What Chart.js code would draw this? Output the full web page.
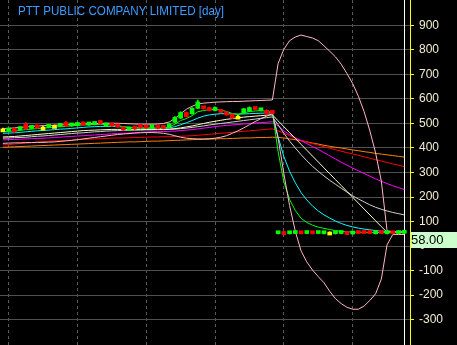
<!DOCTYPE html>
<html lang="en">
<head>
  <meta charset="UTF-8">
  <title>PTT PUBLIC COMPANY LIMITED [day]</title>
  <script src="https://cdn.jsdelivr.net/npm/chart.js"></script>
  <style>
    html, body { margin: 0; padding: 0; background: #000; }
    #wrap { position: relative; width: 457px; height: 345px; }
  </style>
</head>
<body>
<div id="wrap"><canvas id="chart"></canvas></div>
<script>
  const title = "PTT PUBLIC COMPANY LIMITED [day]";

  // daily candles (first 48 bars before the split, 23 after)
  const open = [478, 470, 480, 475, 498, 480, 492, 485, 484, 492, 488, 505, 490, 492, 505, 494, 496, 510, 490, 498,
    494, 482, 474, 484, 492, 488, 482, 488, 486, 486, 505, 522, 545, 540, 562, 565, 565, 553, 555, 548,
    538, 530, 543, 550, 563, 552, 554, 550,
    50, 56, 50, 51, 55, 51, 55, 51, 50, 57, 50, 51, 53, 49, 55, 55, 55, 50, 55, 50, 55, 51, 52];
  const close = [478, 476, 466, 484, 478, 488, 482, 485, 492, 492, 496, 490, 498, 502, 494, 500, 502, 500, 500, 490,
    486, 474, 481, 478, 484, 482, 488, 480, 480, 498, 525, 545, 528, 562, 588, 560, 553, 565, 545, 535,
    522, 530, 560, 565, 557, 558, 540, 541,
    54, 47, 54, 55, 50, 55, 50, 55, 56, 57, 56, 55, 47, 54, 51, 51, 51, 54, 51, 55, 50, 56, 58];
  const high = [481, 478, 483, 486, 504, 490, 494, 488, 494, 494, 498, 509, 500, 504, 507, 502, 504, 512, 502, 500,
    496, 484, 483, 486, 494, 490, 490, 490, 488, 500, 528, 548, 547, 565, 596, 568, 567, 568, 557, 550,
    540, 533, 562, 568, 565, 560, 556, 552,
    55, 57, 55, 56, 56, 56, 56, 56, 57, 58, 57, 56, 54, 55, 56, 56, 56, 55, 56, 56, 56, 57, 58];
  const low = [475, 468, 464, 473, 476, 478, 480, 482, 482, 489, 486, 488, 488, 490, 492, 492, 494, 498, 488, 488,
    484, 472, 472, 476, 482, 480, 480, 478, 478, 484, 503, 520, 526, 538, 560, 558, 551, 551, 543, 533,
    520, 527, 541, 548, 555, 550, 538, 539,
    49, 46, 49, 50, 49, 50, 49, 50, 49, 55, 49, 50, 46, 48, 50, 50, 50, 49, 50, 49, 49, 50, 51];

  // indicator lines
  const lineGreen = [467, 468, 469, 472, 475, 477, 479, 481, 483, 485, 487, 488, 491, 493, 494, 495, 496, 497, 496, 494,
    491, 487, 484, 482, 482, 481, 482, 481, 481, 486, 497, 512, 520, 532, 548, 553, 556, 558, 555, 549,
    541, 537, 543, 549, 551, 553, 549, 546,
    385, 262, 190, 145, 113, 96, 85, 77, 72, 67, 63, 60, 58, 57, 56, 56, 55, 55, 55, 55, 55, 55, 55];
  const lineCyan = [460, 461, 462, 464, 466, 468, 470, 472, 473, 475, 477, 478, 480, 482, 484, 486, 487, 488, 488, 488,
    487, 486, 484, 483, 482, 481, 481, 480, 480, 482, 487, 495, 503, 512, 522, 530, 535, 538, 540, 540,
    539, 538, 539, 540, 541, 542, 543, 543,
    445, 365, 305, 258, 218, 188, 163, 143, 127, 114, 102, 92, 84, 78, 73, 69, 66, 63, 61, 59, 58, 57, 56];
  const lineCream = [445, 446, 447, 449, 451, 453, 455, 457, 459, 461, 463, 465, 467, 469, 471, 472, 473, 474, 475, 476,
    476, 476, 476, 476, 476, 476, 476, 476, 476, 477, 479, 482, 486, 490, 495, 500, 505, 509, 513, 517,
    520, 523, 526, 528, 530, 532, 534, 535,
    511, 487, 463, 439, 415, 391, 367, 343, 319, 295, 271, 247, 223, 199, 175, 151, 127, 103, 79, 56, 56, 55, 55];
  const lineGray = [440, 441, 442, 443, 444, 446, 448, 449, 451, 453, 455, 457, 459, 461, 462, 464, 466, 467, 469, 470,
    471, 472, 472, 473, 473, 474, 474, 475, 475, 476, 477, 479, 481, 484, 487, 490, 494, 497, 500, 503,
    506, 509, 512, 515, 518, 521, 524, 527,
    495, 460, 428, 400, 373, 348, 325, 305, 286, 268, 252, 236, 220, 205, 192, 180, 168, 158, 150, 143, 137, 132, 127];
  const lineMagenta = [433, 434, 435, 436, 437, 438, 439, 440, 441, 443, 444, 446, 447, 449, 450, 452, 453, 455, 456, 458,
    459, 460, 461, 462, 464, 465, 466, 467, 467, 468, 469, 471, 473, 475, 478, 481, 484, 487, 490, 492,
    494, 496, 498, 500, 502, 504, 505, 507,
    490, 470, 455, 442, 430, 418, 406, 394, 381, 368, 355, 342, 330, 318, 307, 296, 285, 274, 264, 255, 246, 238, 231];
  const lineRed = [413, 414, 416, 418, 420, 422, 424, 426, 428, 429, 430, 431, 432, 434, 435, 436, 437, 438, 439, 440,
    441, 441, 442, 443, 443, 444, 445, 445, 446, 446, 447, 448, 449, 450, 452, 454, 456, 458, 460, 462,
    464, 466, 468, 470, 472, 474, 476, 478,
    470, 460, 450, 440, 431, 424, 418, 412, 405, 399, 393, 387, 381, 376, 370, 364, 358, 352, 347, 341, 335, 330, 324];
  const lineOrange = [403, 404, 405, 406, 407, 408, 409, 410, 411, 412, 413, 414, 415, 416, 417, 418, 419, 420, 421, 422,
    423, 424, 425, 425, 426, 427, 428, 428, 429, 430, 431, 432, 433, 434, 435, 435, 436, 437, 438, 438,
    439, 440, 441, 441, 442, 443, 443, 444,
    443, 441, 437, 434, 430, 425, 420, 416, 411, 407, 403, 400, 396, 392, 389, 385, 382, 378, 375, 372, 369, 366, 363];
  const bandUpper = [478, 480, 482, 484, 486, 488, 490, 491, 492, 493, 494, 495, 496, 497, 498, 499, 500, 500, 501, 501,
    501, 500, 499, 498, 497, 497, 497, 498, 500, 506, 520, 540, 558, 570, 580, 583, 585, 587, 588, 589,
    590, 590, 591, 592, 593, 594, 595, 596,
    745, 803, 838, 853, 861, 855, 849, 838, 817, 795, 772, 742, 704, 663, 611, 548, 470, 380, 265, 62, 58, 58, 58];
  const bandLower = [419, 420, 421, 421, 422, 422, 423, 423, 424, 425, 427, 429, 431, 434, 437, 440, 443, 446, 449, 452,
    455, 457, 459, 461, 462, 463, 463, 462, 460, 456, 450, 444, 440, 438, 437, 437, 438, 440, 444, 450,
    460, 470, 482, 495, 508, 520, 530, 540,
    440, 295, 165, 60, -20, -65, -98, -125, -150, -185, -215, -235, -250, -258, -258, -245, -222, -195, -135, 5, 47, 47, 47];

  const yTicks = [-300, -200, -100, 0, 100, 200, 300, 400, 500, 600, 700, 800, 900];
  const periodLines = [8, 20, 32, 44, 56, 68];

  const days = close.map((_, k) => k + 1);
  const lastPrice = close[close.length - 1];

  const candleColor = days.map((_, k) =>
    close[k] > open[k] ? '#00ff00' : (close[k] < open[k] ? '#ff0000' : '#ffff00'));

  function line(values, color, order) {
    return {
      type: 'line',
      data: values.map((v, k) => ({ x: days[k], y: v })),
      borderColor: color,
      borderWidth: 1,
      pointRadius: 0,
      tension: 0,
      order: order
    };
  }

  function noPadding(scale) {
    scale.paddingTop = 0;
    scale.paddingBottom = 0;
    scale.paddingLeft = 0;
    scale.paddingRight = 0;
  }

  const overlay = {
    id: 'overlay',
    beforeDatasetsDraw(chart) {
      const { ctx, chartArea, scales } = chart;
      const x = Math.round(scales.x.getPixelForValue(days[days.length - 1])) + 0.5;
      ctx.save();
      ctx.strokeStyle = '#ffffff';
      ctx.lineWidth = 1;
      ctx.beginPath();
      ctx.moveTo(x, chartArea.top);
      ctx.lineTo(x, chartArea.bottom);
      ctx.stroke();
      ctx.restore();
    },
    afterDraw(chart) {
      const { ctx, chartArea, scales } = chart;
      ctx.save();
      ctx.font = '13px "Liberation Sans", Arial, sans-serif';
      ctx.fillStyle = '#3d9bff';
      ctx.textBaseline = 'alphabetic';
      ctx.fillText(title, 18, 14.5, 206);

      const y = Math.round(scales.y.getPixelForValue(lastPrice));
      const left = chartArea.right;
      ctx.fillStyle = '#ccffcc';
      ctx.fillRect(left, y, chart.width - left, 16);
      ctx.fillStyle = '#000000';
      ctx.textBaseline = 'middle';
      ctx.fillText(lastPrice.toFixed(2), left + 1, y + 8.5);
      ctx.strokeStyle = '#ffff00';
      ctx.lineWidth = 1;
      ctx.beginPath();
      ctx.moveTo(left + 0.5, y);
      ctx.lineTo(left + 0.5, y + 16);
      ctx.stroke();
      ctx.restore();
    }
  };

  new Chart(document.getElementById('chart'), {
    type: 'bar',
    data: {
      datasets: [
        {
          type: 'bar',
          data: days.map((d, k) => ({ x: d, y: [open[k], close[k]] })),
          backgroundColor: candleColor,
          barThickness: 4,
          minBarLength: 3,
          grouped: false,
          order: 0
        },
        {
          type: 'bar',
          data: days.map((d, k) => ({ x: d, y: [low[k], high[k]] })),
          backgroundColor: candleColor,
          barThickness: 1,
          grouped: false,
          order: 1
        },
        line(lineOrange, '#ff8000', 9),
        line(lineRed, '#ff0000', 8),
        line(lineMagenta, '#ff00ff', 7),
        line(lineGray, '#d0d0d0', 6),
        line(lineCream, '#ffffc8', 5),
        line(lineCyan, '#00ffff', 4),
        line(lineGreen, '#00ff00', 3),
        line(bandUpper, '#ffb6c8', 2),
        line(bandLower, '#ffb6c8', 2)
      ]
    },
    options: {
      responsive: true,
      maintainAspectRatio: false,
      animation: false,
      layout: { padding: 0 },
      plugins: { legend: { display: false }, tooltip: { enabled: false } },
      scales: {
        x: {
          type: 'linear',
          min: 0.5,
          max: 72,
          offset: false,
          afterBuildTicks(scale) { scale.ticks = periodLines.map(v => ({ value: v })); },
          afterFit(scale) { scale.height = 0; noPadding(scale); },
          ticks: { display: false },
          grid: { color: '#5a5a5a', drawTicks: false },
          border: { display: false, dash: [3, 3] }
        },
        y: {
          position: 'right',
          min: -404,
          max: 1004,
          afterBuildTicks(scale) { scale.ticks = yTicks.map(v => ({ value: v })); },
          afterFit(scale) { scale.width = 47; noPadding(scale); },
          ticks: {
            color: '#f4ecd0',
            font: { family: '"Liberation Sans", Arial, sans-serif', size: 12 },
            padding: 5,
            autoSkip: false
          },
          grid: { color: '#505050', tickColor: '#ffff00', tickLength: 4 },
          border: { display: true, color: '#ffff00' }
        }
      }
    },
    plugins: [overlay]
  });
</script>
</body>
</html>
